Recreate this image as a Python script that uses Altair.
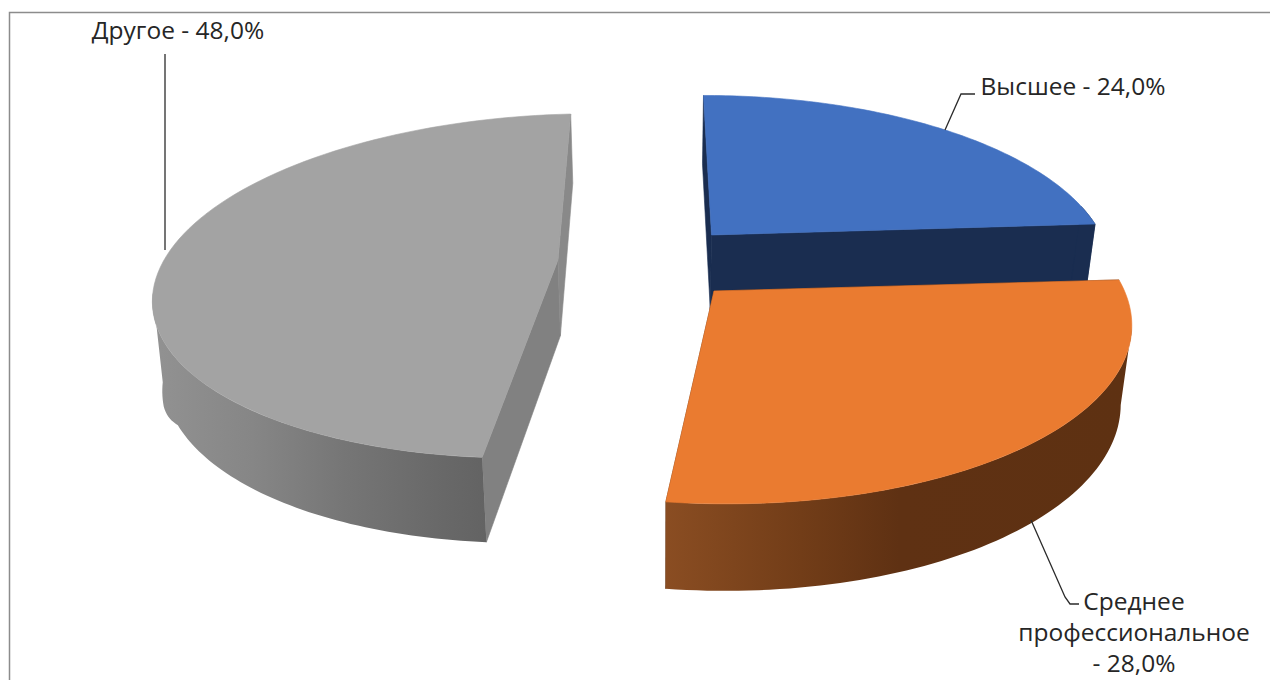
import numpy as np
import pandas as pd
import altair as alt

categories = ["Высшее", "Среднее профессиональное", "Другое"]
shares = [24.0, 28.0, 48.0]

# perspective camera of each exploded slice: apex, right axis, up axis, foreshortening
CAM = [
    dict(a=(711.5, 235.0), u=(389.4, -0.7), v=(-9.5, -165.6), g=0.187, vis=(80, 86.4)),
    dict(a=(714.0, 291.0), u=(410.5, 0.0), v=(-11.0, -178.8), g=0.16, vis=(101, 187.2)),
    dict(a=(558.0, 260.0), u=(398.5, -9.0), v=(14.6, -168.0), g=0.151, vis=(187.2, 262)),
]
edges = np.cumsum([0.0] + shares) / 100.0 * 2 * np.pi


def proj(cam, th):
    s, c = np.sin(th), np.cos(th)
    w = 1 + cam["g"] * c
    x = cam["a"][0] + (cam["u"][0] * s + cam["v"][0] * c) / w
    y = cam["a"][1] + (cam["u"][1] * s + cam["v"][1] * c) / w
    return x, y


def drop(x, y):
    """The same point on the lower rim of the extruded pie."""
    x = np.asarray(x, dtype=float)
    y = np.asarray(y, dtype=float)
    far_left = np.clip((166 - x) / 12, 0, 1)
    return x - (x - 660) * 0.0235 - 2 * far_left, y + 63.8 + 0.046 * y + 12 * far_left


SX = alt.Scale(domain=[8, 1270])
SY = alt.Scale(domain=[8, 680], reverse=True)


def poly(xs, ys, fill, stroke=None):
    xs, ys = [float(v) for v in xs], [float(v) for v in ys]
    df = pd.DataFrame({"x": xs + xs[:1], "y": ys + ys[:1], "i": range(len(xs) + 1)})
    st = stroke if stroke else (fill if isinstance(fill, str) else None)
    kw = dict(fill=fill, strokeWidth=0.6)
    if st:
        kw["stroke"] = st
    else:
        kw["strokeOpacity"] = 0
    return alt.Chart(df).mark_line(**kw).encode(
        x=alt.X("x:Q", scale=SX, axis=None),
        y=alt.Y("y:Q", scale=SY, axis=None),
        order="i:Q",
    )


def grad(stops):
    return alt.Gradient(
        gradient="linear",
        stops=[alt.GradientStop(color=c, offset=o) for o, c in stops],
        x1=0, x2=1, y1=0, y2=0,
    )


def slice_layers(k, top, wall, flat_a, flat_b):
    cam = CAM[k]
    th = np.linspace(edges[k], edges[k + 1], 90)
    ax, ay = proj(cam, th)
    bx, by = drop(ax, ay)
    cx, cy = cam["a"]
    dcx, dcy = drop(cx, cy)
    tv = np.radians(np.linspace(cam["vis"][0], cam["vis"][1], 70))
    wx, wy = proj(cam, tv)
    zx, zy = drop(wx, wy)
    return [
        poly([ax[0], cx, dcx, bx[0]], [ay[0], cy, dcy, by[0]], flat_a),
        poly([ax[-1], cx, dcx, bx[-1]], [ay[-1], cy, dcy, by[-1]], flat_b),
        poly(list(wx) + list(zx[::-1]), list(wy) + list(zy[::-1]), wall),
        poly([cx] + list(ax), [cy] + list(ay), top),
    ]


layers = []
# frame
frame = pd.DataFrame({"x": [9.5, 9.5, 1270], "y": [680, 12.5, 12.5], "i": [0, 1, 2]})
layers.append(alt.Chart(frame).mark_line(color="#8c8c8c", strokeWidth=1.5).encode(
    x=alt.X("x:Q", scale=SX, axis=None), y=alt.Y("y:Q", scale=SY, axis=None), order="i:Q"))

# order of painting: grey, blue, orange
layers += slice_layers(
    2, "#a3a3a3",
    grad([(0, "#929292"), (0.3, "#868686"), (0.57, "#767676"), (0.85, "#696969"), (1, "#636363")]),
    "#818181", "#898989")
layers += slice_layers(0, "#4271c1", "#1a2d50", "#1a2d50", "#1a2d50")
layers += slice_layers(
    1, "#ea7b30",
    grad([(0, "#8a4d22"), (0.29, "#723d18"), (0.5, "#5f3113"), (1, "#5e3112")]),
    "#5e3112", "#5e3112")

# leader lines
lead_x = [[165, 165], [945, 961, 975], [1031, 1065, 1070, 1079]]
lead_y = [[54, 250], [130, 94, 94], [520, 597, 604, 604]]
for lx, ly in zip(lead_x, lead_y):
    d = pd.DataFrame({"x": lx, "y": ly, "i": range(len(lx))})
    layers.append(alt.Chart(d).mark_line(color="#2b2b2b", strokeWidth=1.3).encode(
        x=alt.X("x:Q", scale=SX, axis=None), y=alt.Y("y:Q", scale=SY, axis=None), order="i:Q"))

# labels
label_text = ["Другое - 48,0%", "Высшее  - 24,0%", "Среднее", "профессиональное", "- 28,0%"]
label_x = [178, 1073, 1134, 1134, 1134]
label_y = [32, 88, 603, 634, 665]
labels = pd.DataFrame({"t": label_text, "x": label_x, "y": label_y})
layers.append(alt.Chart(labels).mark_text(
    font="Open Sans", fontSize=24.5, color="#262626", align="center", baseline="middle"
).encode(
    x=alt.X("x:Q", scale=SX, axis=None), y=alt.Y("y:Q", scale=SY, axis=None), text="t:N"))

chart = alt.layer(*layers).properties(
    width=1262, height=672, padding=0, autosize=alt.AutoSizeParams(type="none"), background="white"
).configure_view(stroke=None)

chart.save("out.html", embed_options={"renderer": "svg", "actions": False})
